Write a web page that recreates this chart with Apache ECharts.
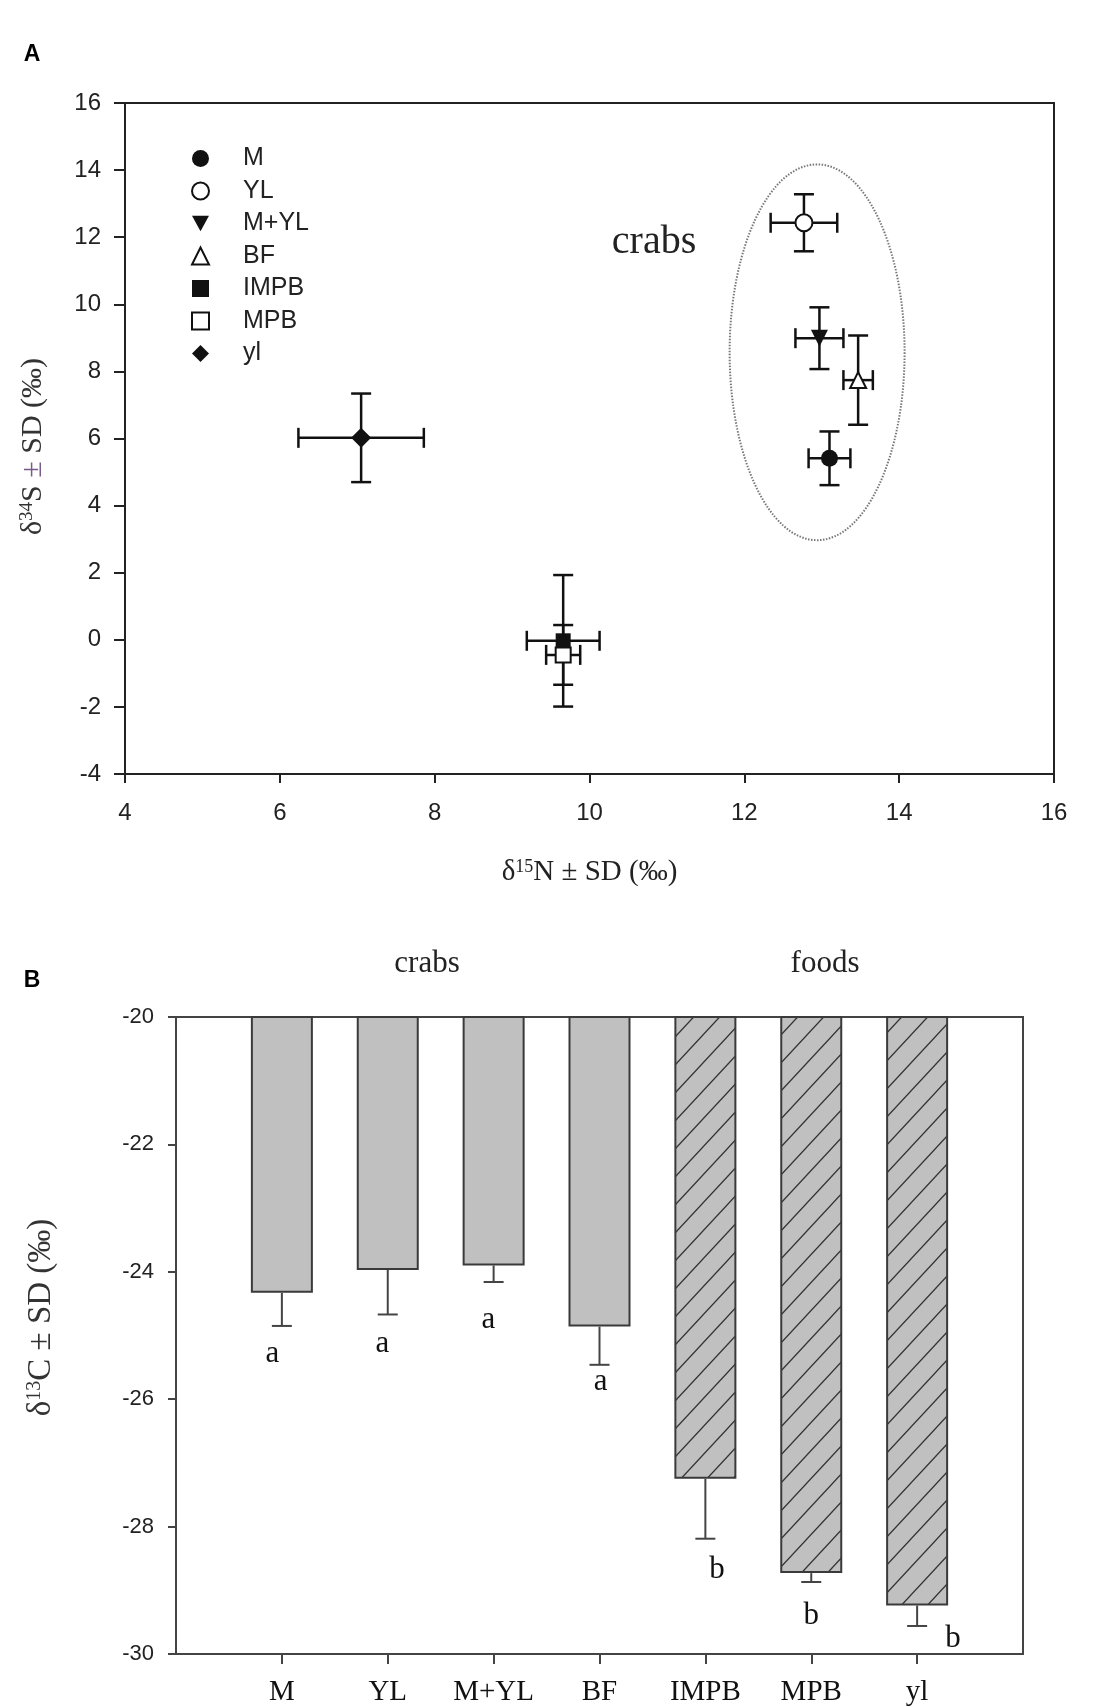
<!DOCTYPE html>
<html>
<head>
<meta charset="utf-8">
<script src="https://cdn.jsdelivr.net/npm/echarts@6/dist/echarts.min.js"></script>
<style>
  html, body { margin: 0; padding: 0; background: #fff; }
  #chart { width: 1108px; height: 1707px; }
</style>
</head>
<body>
<div id="chart"></div>
<script>
// 分组
const groups = ['M', 'YL', 'M+YL', 'BF', 'IMPB', 'MPB', 'yl'];
const foodGroups = ['IMPB', 'MPB', 'yl'];

// 图 A: δ15N (x) 与 δ34S (y)，均值与标准差
const n15Mean = [13.10, 12.77, 12.97, 13.47, 9.66, 9.66, 7.05];
const n15Sd = [0.27, 0.43, 0.31, 0.19, 0.47, 0.22, 0.81];
const s34Mean = [5.41, 12.43, 8.99, 7.74, -0.03, -0.45, 6.02];
const s34Sd = [0.80, 0.85, 0.92, 1.33, 1.96, 0.89, 1.32];
// crabs 椭圆：中心 x, 中心 y, 半径 x, 半径 y（数据单位）
const crabEllipse = [12.94, 8.57, 1.13, 5.6];

// 图 B: δ13C 均值与标准差
const c13Mean = [-24.33, -23.97, -23.90, -24.86, -27.25, -28.73, -29.24];
const c13Sd = [0.52, 0.70, 0.26, 0.60, 0.94, 0.14, 0.32];
const sigLetters = ['a', 'a', 'a', 'a', 'b', 'b', 'b'];
const letterY = [-25.29, -25.13, -24.75, -25.72, -28.68, -29.40, -29.77];
const letterShift = [-0.09, -0.05, -0.05, 0.01, 0.11, 0, 0.34];

// 散点符号样式
const markerStyle = {
  'M': { symbol: 'circle', size: 17, fill: '#111' },
  'YL': { symbol: 'circle', size: 17, fill: '#fff' },
  'M+YL': { symbol: 'triangle', size: 17, fill: '#111', rotate: 180, legendIcon: 'path://M0,0L2,0L1,1.8Z' },
  'BF': { symbol: 'triangle', size: 16, fill: '#fff' },
  'IMPB': { symbol: 'rect', size: 15, fill: '#111' },
  'MPB': { symbol: 'rect', size: 15, fill: '#fff' },
  'yl': { symbol: 'diamond', size: 20, fill: '#111' }
};

const sans = 'Liberation Sans';
const serif = 'Liberation Serif';

// 斜线填充
function makeHatch() {
  const w = 26, h = 28;
  const c = document.createElement('canvas');
  c.width = w;
  c.height = h;
  const ctx = c.getContext('2d');
  ctx.fillStyle = '#c0c0c0';
  ctx.fillRect(0, 0, w, h);
  ctx.strokeStyle = '#333';
  ctx.lineWidth = 1.3;
  ctx.beginPath();
  for (let n = 0; n <= 2; n++) {
    ctx.moveTo(-w, h * (n + 1));
    ctx.lineTo(2 * w, h * (n - 2));
  }
  ctx.stroke();
  return c;
}
const hatch = { image: makeHatch(), repeat: 'repeat' };

// 带上标的标题
function titleRich(size, supSize, color) {
  return {
    t: { fontFamily: serif, fontSize: size, lineHeight: size, color: color, verticalAlign: 'bottom' },
    s: { fontFamily: serif, fontSize: supSize, lineHeight: size, color: color, verticalAlign: 'top' },
    p: { fontFamily: serif, fontSize: size, lineHeight: size, color: '#7a5a8a', verticalAlign: 'bottom' }
  };
}

function renderCross(params, api) {
  const x = api.value(0), y = api.value(1), dx = api.value(2), dy = api.value(3);
  const c = api.coord([x, y]);
  const l = api.coord([x - dx, y]);
  const r = api.coord([x + dx, y]);
  const t = api.coord([x, y + dy]);
  const b = api.coord([x, y - dy]);
  const cap = 10;
  const st = { stroke: '#111', lineWidth: 2.5 };
  const line = (x1, y1, x2, y2) => ({ type: 'line', shape: { x1, y1, x2, y2 }, style: st });
  return {
    type: 'group',
    children: [
      line(l[0], c[1], r[0], c[1]),
      line(l[0], c[1] - cap, l[0], c[1] + cap),
      line(r[0], c[1] - cap, r[0], c[1] + cap),
      line(c[0], t[1], c[0], b[1]),
      line(c[0] - cap, t[1], c[0] + cap, t[1]),
      line(c[0] - cap, b[1], c[0] + cap, b[1])
    ]
  };
}

function renderEllipse(params, api) {
  const c = api.coord([api.value(0), api.value(1)]);
  const s = api.size([api.value(2), api.value(3)]);
  return {
    type: 'ellipse',
    shape: { cx: c[0], cy: c[1], rx: s[0], ry: s[1] },
    style: { fill: 'none', stroke: '#777', lineWidth: 2, lineDash: [1.5, 1.5] }
  };
}

function renderLowerErr(params, api) {
  const i = api.value(0), v = api.value(1), sd = api.value(2);
  const top = api.coord([i, v]);
  const bot = api.coord([i, v - sd]);
  const st = { stroke: '#444', lineWidth: 2 };
  return {
    type: 'group',
    children: [
      { type: 'line', shape: { x1: top[0], y1: top[1], x2: bot[0], y2: bot[1] }, style: st },
      { type: 'line', shape: { x1: bot[0] - 10, y1: bot[1], x2: bot[0] + 10, y2: bot[1] }, style: st }
    ]
  };
}

function renderLetter(params, api) {
  const p = api.coord([api.value(0), api.value(1)]);
  const bw = api.size([1, 0])[0];
  return {
    type: 'text',
    x: p[0] + api.value(2) * bw,
    y: p[1],
    style: {
      text: sigLetters[params.dataIndex],
      fontFamily: serif,
      fontSize: 31,
      fill: '#111',
      align: 'center',
      verticalAlign: 'middle'
    }
  };
}

const catsB = [' '].concat(groups, ['  ']);
const innerTick = (index) => index > 0 && index < catsB.length - 1;

const scatterSeries = groups.map((g, i) => {
  const m = markerStyle[g];
  return {
    name: g,
    type: 'scatter',
    xAxisIndex: 0,
    yAxisIndex: 0,
    symbol: m.symbol,
    symbolSize: m.size,
    symbolRotate: m.rotate || 0,
    symbolKeepAspect: true,
    itemStyle: {
      color: m.fill,
      borderColor: '#111',
      borderWidth: m.fill === '#fff' ? 2 : 0,
      opacity: 1
    },
    z: 5,
    data: [[n15Mean[i], s34Mean[i]]]
  };
});

const option = {
  animation: false,
  backgroundColor: '#fff',
  grid: [
    { left: 125, top: 103, width: 929, height: 671, show: true, borderColor: '#222', borderWidth: 2 },
    { left: 176, top: 1017, width: 847, height: 637, show: true, borderColor: '#444', borderWidth: 2 }
  ],
  legend: {
    data: groups.map(g => markerStyle[g].legendIcon ? { name: g, icon: markerStyle[g].legendIcon } : g),
    orient: 'vertical',
    left: 186,
    top: 141,
    itemWidth: 17,
    itemHeight: 17,
    itemGap: 7.5,
    selectedMode: false,
    textStyle: { fontFamily: sans, fontSize: 25, color: '#222', lineHeight: 25, padding: [0, 0, 0, 29] }
  },
  xAxis: [
    {
      gridIndex: 0,
      type: 'value',
      min: 4,
      max: 16,
      interval: 2,
      axisLine: { show: true, onZero: false, lineStyle: { color: '#222', width: 2 } },
      axisTick: { show: true, length: 9, lineStyle: { color: '#222', width: 2 } },
      axisLabel: { margin: 27, fontFamily: sans, fontSize: 24, color: '#222' },
      splitLine: { show: false },
      name: '{t|δ}{s|15}{t|N ± SD (‰)}',
      nameLocation: 'middle',
      nameGap: 84,
      nameTextStyle: { rich: titleRich(29, 18, '#222') }
    },
    {
      gridIndex: 1,
      type: 'category',
      data: catsB,
      boundaryGap: false,
      axisLine: { show: true, onZero: false, lineStyle: { color: '#444', width: 2 } },
      axisTick: { show: true, length: 10, interval: innerTick, lineStyle: { color: '#444', width: 2 } },
      axisLabel: { interval: innerTick, margin: 24, fontFamily: serif, fontSize: 29, color: '#111' },
      splitLine: { show: false }
    }
  ],
  yAxis: [
    {
      gridIndex: 0,
      type: 'value',
      min: -4,
      max: 16,
      interval: 2,
      axisLine: { show: true, onZero: false, lineStyle: { color: '#222', width: 2 } },
      axisTick: { show: true, length: 11, lineStyle: { color: '#222', width: 2 } },
      axisLabel: { margin: 24, fontFamily: sans, fontSize: 24, color: '#222' },
      splitLine: { show: false },
      name: '{t|δ}{s|34}{t|S }{p|±}{t| SD (‰)}',
      nameLocation: 'middle',
      nameRotate: 90,
      nameGap: 77,
      nameTextStyle: { rich: titleRich(30, 19, '#333'), padding: [0, 16, 0, 0] }
    },
    {
      gridIndex: 1,
      type: 'value',
      min: -30,
      max: -20,
      interval: 2,
      axisLine: { show: true, onZero: false, lineStyle: { color: '#444', width: 2 } },
      axisTick: { show: true, length: 8, lineStyle: { color: '#444', width: 2 } },
      axisLabel: { margin: 22, fontFamily: sans, fontSize: 22, color: '#222' },
      splitLine: { show: false },
      name: '{t|δ}{s|13}{t|C ± SD (‰)}',
      nameLocation: 'middle',
      nameRotate: 90,
      nameGap: 118,
      nameTextStyle: { rich: titleRich(33, 20, '#333'), padding: [0, 0, 0, 36] }
    }
  ],
  graphic: [
    { type: 'text', x: 32, y: 55, style: { text: 'A', fontFamily: sans, fontWeight: 'bold', fontSize: 23, fill: '#000', align: 'center', verticalAlign: 'middle' } },
    { type: 'text', x: 32, y: 981, style: { text: 'B', fontFamily: sans, fontWeight: 'bold', fontSize: 23, fill: '#000', align: 'center', verticalAlign: 'middle' } },
    { type: 'text', x: 654, y: 242, style: { text: 'crabs', fontFamily: serif, fontSize: 40, fill: '#222', align: 'center', verticalAlign: 'middle' } },
    { type: 'text', x: 427, y: 964, style: { text: 'crabs', fontFamily: serif, fontSize: 31, fill: '#222', align: 'center', verticalAlign: 'middle' } },
    { type: 'text', x: 825, y: 964, style: { text: 'foods', fontFamily: serif, fontSize: 31, fill: '#222', align: 'center', verticalAlign: 'middle' } }
  ],
  series: [
    {
      type: 'custom',
      xAxisIndex: 0,
      yAxisIndex: 0,
      renderItem: renderEllipse,
      silent: true,
      z: 1,
      data: [crabEllipse]
    },
    {
      type: 'custom',
      xAxisIndex: 0,
      yAxisIndex: 0,
      renderItem: renderCross,
      silent: true,
      z: 3,
      data: groups.map((g, i) => [n15Mean[i], s34Mean[i], n15Sd[i], s34Sd[i]])
    }
  ].concat(scatterSeries, [
    {
      type: 'bar',
      xAxisIndex: 1,
      yAxisIndex: 1,
      barWidth: 62,
      clip: true,
      itemStyle: { borderColor: '#3a3a3a', borderWidth: 2 },
      data: groups.map((g, i) => ({
        value: [i + 1, c13Mean[i]],
        itemStyle: { color: foodGroups.includes(g) ? hatch : '#c0c0c0' }
      }))
    },
    {
      type: 'custom',
      xAxisIndex: 1,
      yAxisIndex: 1,
      renderItem: renderLowerErr,
      silent: true,
      z: 4,
      data: groups.map((g, i) => [i + 1, c13Mean[i], c13Sd[i]])
    },
    {
      type: 'custom',
      xAxisIndex: 1,
      yAxisIndex: 1,
      renderItem: renderLetter,
      silent: true,
      z: 4,
      data: groups.map((g, i) => [i + 1, letterY[i], letterShift[i]])
    }
  ])
};

const chart = echarts.init(document.getElementById('chart'), null, { renderer: 'canvas' });
chart.setOption(option);
</script>
</body>
</html>
